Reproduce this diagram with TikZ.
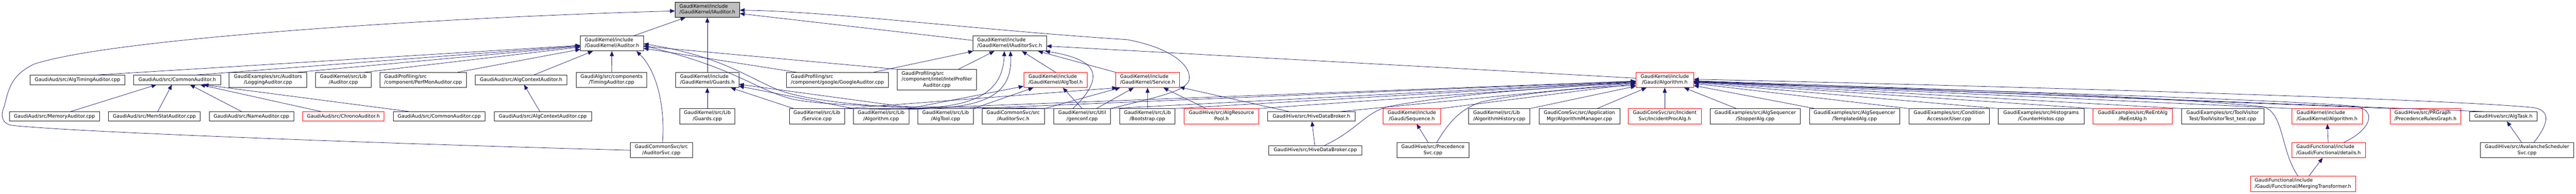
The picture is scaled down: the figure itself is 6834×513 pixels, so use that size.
\documentclass[tikz,border=0pt]{standalone}
\usepackage{fontspec}
\setmainfont{DejaVu Sans}
\usetikzlibrary{arrows.meta}
\definecolor{edgec}{HTML}{191970}
\definecolor{rootc}{HTML}{BFBFBF}
\definecolor{boxc}{HTML}{202020}
\definecolor{redc}{HTML}{FF0000}
\newcommand\nfont{\fontsize{12.8}{15.3}\selectfont}
\newcommand\twoline[2]{\begin{tabular}{@{}l@{}}#1\\\multicolumn{1}{@{}c@{}}{#2}\end{tabular}}
\newcommand\threeline[3]{\begin{tabular}{@{}l@{}}#1\\#2\\\multicolumn{1}{@{}c@{}}{#3}\end{tabular}}
\begin{document}
\begin{tikzpicture}[x=1pt,y=-1pt,
  bx/.style={draw=boxc, line width=1pt, fill=white, inner xsep=2pt, inner ysep=0pt, font=\nfont},
  rbx/.style={bx, draw=redc},
  rootbx/.style={bx, fill=rootc, draw=black},
  s1/.style={minimum height=25pt, text height=9.6pt, text depth=3pt},
  s2/.style={minimum height=40pt},
  s3/.style={minimum height=55pt},
  bw/.style={minimum width=#1pt},
  lnk/.style={draw=edgec, line width=1pt, -{Triangle[length=13pt,width=10.5pt]}}]
\fill[white] (0,0) rectangle (6834,513);
\useasboundingbox (0,0) rectangle (6834,513);
% row 0
\node[rootbx,s2,bw=171] (iauditor) at (1876.5,26) {\twoline{GaudiKernel/include}{/GaudiKernel/IAuditor.h}};
% row 1
\node[bx,s2,bw=167] (auditorh) at (1623.5,115) {\twoline{GaudiKernel/include}{/GaudiKernel/Auditor.h}};
\node[bx,s2,bw=195] (iauditorsvc) at (2678.5,115) {\twoline{GaudiKernel/include}{/GaudiKernel/IAuditorSvc.h}};
% row 2
\node[bx,s1,bw=251] (algtiming) at (205.5,211.5) {GaudiAud/src/AlgTimingAuditor.cpp};
\node[bx,s1,bw=230] (commonh) at (470,211.5) {GaudiAud/src/CommonAuditor.h};
\node[bx,s2,bw=206] (logging) at (711,212) {\twoline{GaudiExamples/src/Auditors}{/LoggingAuditor.cpp}};
\node[bx,s2,bw=148] (auditorcpp) at (911,212) {\twoline{GaudiKernel/src/Lib}{/Auditor.cpp}};
\node[bx,s2,bw=229] (perfmon) at (1122.5,212) {\twoline{GaudiProfiling/src}{/component/PerfMonAuditor.cpp}};
\node[bx,s1,bw=243] (algctxh) at (1382.5,211.5) {GaudiAud/src/AlgContextAuditor.h};
\node[bx,s2,bw=187] (timing) at (1622.5,212) {\twoline{GaudiAlg/src/components}{/TimingAuditor.cpp}};
\node[bx,s2,bw=167] (guardsh) at (1876.5,212) {\twoline{GaudiKernel/include}{/GaudiKernel/Guards.h}};
\node[bx,s2,bw=271] (google) at (2221.5,212) {\twoline{GaudiProfiling/src}{/component/google/GoogleAuditor.cpp}};
\node[bx,s3,bw=211] (intel) at (2485.5,211.5) {\threeline{GaudiProfiling/src}{/component/intel/IntelProfiler}{Auditor.cpp}};
\node[rbx,s2,bw=169] (algtoolh) at (2800.5,212) {\twoline{GaudiKernel/include}{/GaudiKernel/AlgTool.h}};
\node[rbx,s2,bw=169] (serviceh) at (3044.5,212) {\twoline{GaudiKernel/include}{/GaudiKernel/Service.h}};
\node[rbx,s2,bw=153] (algorithmh) at (4416.5,212) {\twoline{GaudiKernel/include}{/Gaudi/Algorithm.h}};
% row 3
\node[bx,s1,bw=239] (memory) at (144.5,308.5) {GaudiAud/src/MemoryAuditor.cpp};
\node[bx,s1,bw=243] (memstat) at (409.5,308.5) {GaudiAud/src/MemStatAuditor.cpp};
\node[bx,s1,bw=224] (nameaud) at (667,308.5) {GaudiAud/src/NameAuditor.cpp};
\node[rbx,s1,bw=216] (chrono) at (911,308.5) {GaudiAud/src/ChronoAuditor.h};
\node[bx,s1,bw=244] (commoncpp) at (1165,308.5) {GaudiAud/src/CommonAuditor.cpp};
\node[bx,s1,bw=258] (algctxcpp) at (1440,308.5) {GaudiAud/src/AlgContextAuditor.cpp};
\node[bx,s2,bw=147] (guardscpp) at (1876.5,308) {\twoline{GaudiKernel/src/Lib}{/Guards.cpp}};
\node[bx,s2,bw=146] (servicecpp) at (2167,308) {\twoline{GaudiKernel/src/Lib}{/Service.cpp}};
\node[bx,s2,bw=147] (algorithmcpp) at (2337.5,308) {\twoline{GaudiKernel/src/Lib}{/Algorithm.cpp}};
\node[bx,s2,bw=147] (algtoolcpp) at (2508.5,308) {\twoline{GaudiKernel/src/Lib}{/AlgTool.cpp}};
\node[bx,s2,bw=166] (auditorsvch) at (2688,308) {\twoline{GaudiCommonSvc/src}{/AuditorSvc.h}};
\node[bx,s2,bw=150] (genconf) at (2871,308) {\twoline{GaudiKernel/src/Util}{/genconf.cpp}};
\node[bx,s2,bw=146] (bootstrap) at (3044,308) {\twoline{GaudiKernel/src/Lib}{/Bootstrap.cpp}};
\node[rbx,s2,bw=197] (algrespool) at (3240.5,308) {\twoline{GaudiHive/src/AlgResource}{Pool.h}};
\node[bx,s1,bw=232] (hivedbh) at (3479,308.5) {GaudiHive/src/HiveDataBroker.h};
\node[rbx,s2,bw=153] (sequenceh) at (3745.5,308) {\twoline{GaudiKernel/include}{/Gaudi/Sequence.h}};
\node[bx,s2,bw=163] (alghistory) at (3977.5,308) {\twoline{GaudiKernel/src/Lib}{/AlgorithmHistory.cpp}};
\node[bx,s2,bw=214] (algmgr) at (4190,308) {\twoline{GaudiCoreSvc/src/Application}{Mgr/AlgorithmManager.cpp}};
\node[rbx,s2,bw=193] (incproc) at (4416.5,308) {\twoline{GaudiCoreSvc/src/Incident}{Svc/IncidentProcAlg.h}};
\node[bx,s2,bw=239] (stopper) at (4656.5,308) {\twoline{GaudiExamples/src/AlgSequencer}{/StopperAlg.cpp}};
\node[bx,s2,bw=240] (templated) at (4920,308) {\twoline{GaudiExamples/src/AlgSequencer}{/TemplatedAlg.cpp}};
\node[bx,s2,bw=214] (conduser) at (5171,308) {\twoline{GaudiExamples/src/Condition}{Accessor/User.cpp}};
\node[bx,s2,bw=228] (counterhistos) at (5415,308) {\twoline{GaudiExamples/src/Histograms}{/CounterHistos.cpp}};
\node[rbx,s2,bw=210] (reentalgh) at (5658,308) {\twoline{GaudiExamples/src/ReEntAlg}{/ReEntAlg.h}};
\node[bx,s2,bw=219] (toolvisitor) at (5896.5,308) {\twoline{GaudiExamples/src/ToolVisitor}{Test/ToolVisitorTest\_test.cpp}};
\node[rbx,s2,bw=187] (kalgorithmh) at (6173.5,308) {\twoline{GaudiKernel/include}{/GaudiKernel/Algorithm.h}};
\node[rbx,s2,bw=187] (prgraph) at (6434.5,308) {\twoline{GaudiHive/src/PRGraph}{/PrecedenceRulesGraph.h}};
\node[bx,s1,bw=179] (algtask) at (6641.5,308.5) {GaudiHive/src/AlgTask.h};
% row 4
\node[bx,s2,bw=165] (auditorsvccpp) at (1754.5,398) {\twoline{GaudiCommonSvc/src}{/AuditorSvc.cpp}};
\node[bx,s1,bw=247] (hivedbcpp) at (3489.5,398) {GaudiHive/src/HiveDataBroker.cpp};
\node[bx,s2,bw=191] (precsvc) at (3801.5,398) {\twoline{GaudiHive/src/Precedence}{Svc.cpp}};
\node[rbx,s2,bw=195] (details) at (6177.5,398) {\twoline{GaudiFunctional/include}{/Gaudi/Functional/details.h}};
\node[bx,s2,bw=248] (avalanche) at (6704,398) {\twoline{GaudiHive/src/AvalancheScheduler}{Svc.cpp}};
% row 5
\node[rbx,s2,bw=279] (merging) at (6109.5,487) {\twoline{GaudiFunctional/include}{/Gaudi/Functional/MergingTransformer.h}};

% ---- edges into IAuditor.h
\draw[lnk] (auditorh) -- (iauditor);
\draw[lnk] (guardsh) -- (iauditor);
\draw[lnk] ([yshift=8pt]iauditorsvc.west) -- (iauditor);
\draw[lnk] (genconf.north east) .. controls (3080,255) and (3150,240) .. (3155,210) .. controls (3160,170) and (3100,125) .. (2990,105) .. controls (2600,80) and (2200,30) .. ([yshift=-1pt]iauditor.east);
\draw[lnk] (auditorsvccpp.west) .. controls (1000,380) and (200,350) .. (30,332) .. controls (0,325) and (3,300) .. (12,280) .. controls (25,220) and (40,195) .. (90,170) .. controls (300,100) and (1200,45) .. ([yshift=-3pt]iauditor.west);
% ---- edges into Auditor.h
\draw[lnk] ([xshift=-73pt]algtiming.north east) -- (auditorh);
\draw[lnk] ([xshift=-65pt]commonh.north east) -- (auditorh);
\draw[lnk] ([xshift=-26pt]logging.north east) -- (auditorh);
\draw[lnk] ([xshift=-19pt]auditorcpp.north east) -- (auditorh);
\draw[lnk] ([xshift=-24pt]perfmon.north east) -- (auditorh);
\draw[lnk] ([xshift=34pt]algctxh.north) -- (auditorh);
\draw[lnk] (timing) -- (auditorh);
\draw[lnk] ([xshift=28pt]google.north west) -- (auditorh);
\draw[lnk] (intel.north west) -- (auditorh);
\draw[lnk] ([xshift=3pt]auditorsvccpp.north) .. controls (1765,290) and (1745,190) .. ([xshift=-19pt]auditorh.south east);
\draw[lnk] (genconf.north west) .. controls (2500,283) and (2200,285) .. (2100,262) .. controls (2000,235) and (1950,180) .. ([yshift=-6pt]auditorh.east);
\draw[lnk] (algtoolcpp.north west) .. controls (2350,283) and (2160,272) .. (2070,240) .. controls (1990,210) and (1920,150) .. ([yshift=-1pt]auditorh.east);
% ---- edges into CommonAuditor.h
\draw[lnk] ([xshift=43pt]memory.north) -- ([xshift=-55pt]commonh.south);
\draw[lnk] ([xshift=9pt]memstat.north) -- ([xshift=-14pt]commonh.south);
\draw[lnk] ([xshift=-26pt]nameaud.north) -- ([xshift=34pt]commonh.south);
\draw[lnk] ([xshift=-59pt]chrono.north) -- ([xshift=61pt]commonh.south);
\draw[lnk] ([xshift=-79pt]commoncpp.north) -- ([xshift=70pt]commonh.south);
% ---- AlgContextAuditor.h
\draw[lnk] (algctxcpp) -- (algctxh);
% ---- Guards.h
\draw[lnk] (guardscpp) -- (guardsh);
\draw[lnk] ([xshift=12pt]servicecpp.north west) -- (guardsh);
\draw[lnk] (algorithmcpp.north west) -- (guardsh);
\draw[lnk] (algtoolcpp.north west) -- (guardsh);
% ---- IAuditorSvc.h
\draw[lnk] ([xshift=-40pt]google.north east) -- (iauditorsvc);
\draw[lnk] ([xshift=57pt]intel.north) -- (iauditorsvc);
\draw[lnk] (algorithmcpp.north east) .. controls (2560,285) and (2660,260) .. ([xshift=-14pt]iauditorsvc.south);
\draw[lnk] (servicecpp.north east) .. controls (2520,292) and (2690,300) .. ([xshift=2pt]iauditorsvc.south);
\draw[lnk] (algtoolh.north) -- (iauditorsvc);
\draw[lnk] (serviceh.north west) -- (iauditorsvc);
\draw[lnk] ([xshift=-25pt]genconf.north) .. controls (2885,252) and (2918,205) .. (2888,175) .. controls (2865,152) and (2815,142) .. ([xshift=-4pt]iauditorsvc.south east);
\draw[lnk] ([yshift=5pt]algorithmh.west) -- ([yshift=-7pt]iauditorsvc.east);
% ---- AlgTool.h
\draw[lnk] (algorithmcpp.north east) -- (algtoolh);
\draw[lnk] (algtoolcpp.north east) -- (algtoolh);
\draw[lnk] (genconf.north) -- (algtoolh);
% ---- Service.h
\draw[lnk] (servicecpp.north east) -- ([xshift=4pt]serviceh.south west);
\draw[lnk] (auditorsvch.north east) -- ([xshift=12pt]serviceh.south west);
\draw[lnk] ([xshift=-38pt]genconf.north east) -- (serviceh);
\draw[lnk] (bootstrap) -- (serviceh);
\draw[lnk] ([xshift=-41pt]algrespool.north) -- (serviceh);
\draw[lnk] ([xshift=57pt]hivedbh.north west) -- (serviceh);
% ---- Gaudi/Algorithm.h
\draw[lnk] (algorithmcpp.north east) -- (algorithmh);
\draw[lnk] (algtoolcpp.north east) -- (algorithmh);
\draw[lnk] (genconf.north east) -- (algorithmh);
\draw[lnk] (bootstrap.north east) -- (algorithmh);
\draw[lnk] (algrespool.north east) -- (algorithmh);
\draw[lnk] ([xshift=-39pt]hivedbh.north east) -- (algorithmh);
\draw[lnk] ([xshift=25pt]hivedbcpp.north) .. controls (3600,345) and (3625,295) .. (3685,282) .. controls (3850,250) and (4150,228) .. ([yshift=-8pt]algorithmh.west);
\draw[lnk] (sequenceh.north east) -- (algorithmh);
\draw[lnk] ([xshift=10pt]precsvc.north) .. controls (3840,330) and (3870,290) .. (3930,270) .. controls (4050,245) and (4200,232) .. ([yshift=-14pt]algorithmh.west);
\draw[lnk] (alghistory.north east) -- (algorithmh);
\draw[lnk] ([xshift=47pt]algmgr.north) -- (algorithmh);
\draw[lnk] (incproc) -- (algorithmh);
\draw[lnk] ([xshift=-50pt]stopper.north) -- (algorithmh);
\draw[lnk] ([xshift=15pt]templated.north west) -- (algorithmh);
\draw[lnk] (conduser.north west) -- (algorithmh);
\draw[lnk] (counterhistos.north west) -- (algorithmh);
\draw[lnk] (reentalgh.north west) -- (algorithmh);
\draw[lnk] (toolvisitor.north west) -- (algorithmh);
\draw[lnk] (kalgorithmh.north west) -- (algorithmh);
\draw[lnk] ([xshift=40pt]details.north) .. controls (6278,350) and (6312,300) .. (6255,282) .. controls (6000,258) and (4700,225) .. ([yshift=-6pt]algorithmh.east);
\draw[lnk] ([xshift=-13pt]merging.north) .. controls (6050,400) and (6060,300) .. (6005,283) .. controls (5700,250) and (4800,225) .. ([yshift=-2pt]algorithmh.east);
\draw[lnk] (prgraph.north west) -- (algorithmh);
\draw[lnk] ([xshift=-53pt]algtask.north) -- (algorithmh);
\draw[lnk] ([xshift=18pt]avalanche.north) .. controls (6760,330) and (6770,292) .. (6720,285) .. controls (6500,262) and (5200,225) .. ([yshift=2pt]algorithmh.east);
% ---- remaining
\draw[lnk] (precsvc) -- (sequenceh);
\draw[lnk] (hivedbcpp) -- (hivedbh);
\draw[lnk] (details) -- (kalgorithmh);
\draw[lnk] (merging) -- (details);
\draw[lnk] (avalanche) -- (algtask);
\end{tikzpicture}
\end{document}
